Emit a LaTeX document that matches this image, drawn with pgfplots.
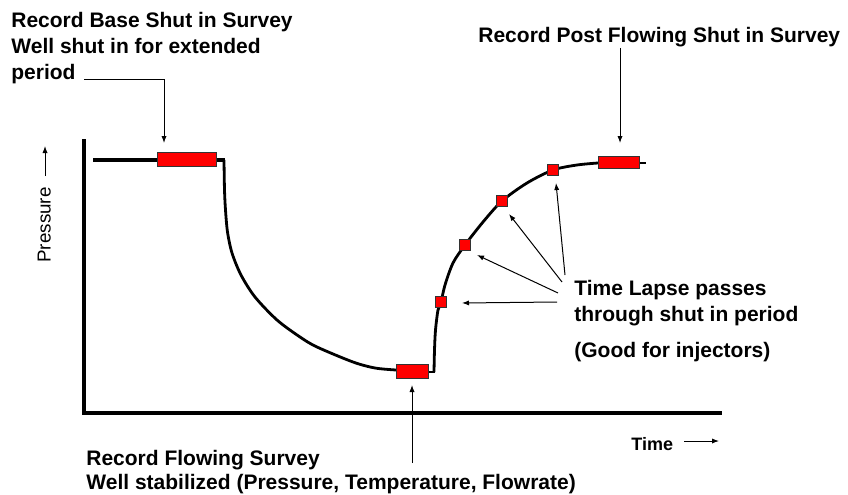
\documentclass[border=0pt]{standalone}
\usepackage{pgfplots}
\pgfplotsset{compat=1.18}
\usepackage{fontspec}
\setmainfont{Liberation Sans}
\usetikzlibrary{arrows.meta}
\newcommand{\lbl}{\fontsize{10.5bp}{13bp}\selectfont\bfseries}
\begin{document}
\begin{tikzpicture}
\begin{axis}[scale only axis, width=424bp, height=247.5bp,
  xmin=0, xmax=848, ymin=0, ymax=495, y dir=reverse,
  axis line style={draw=none}, xtick=\empty, ytick=\empty, clip=false]
% axis lines
\addplot[black, line width=2bp] coordinates {(84,139) (84,413) (722,413)};
% flat initial pressure
\addplot[black, line width=1.8bp] coordinates {(93,160) (225,160)};
% drawdown curve
\addplot[black, line width=1.4bp, smooth] coordinates {(224,160) (224.5,190) (225.5,210) (227.5,232) (232,253) (241,275) (255,297) (277,320) (300,337) (317,347) (353,362) (375,368) (396,370)};
% build-up curve
\addplot[black, line width=1.4bp] coordinates {(428,372) (434.5,372)};
\addplot[black, line width=1.4bp, smooth] coordinates {(434,372) (434.5,350) (435.5,330) (438,310) (441,302) (445,285) (453,263) (465,245) (483,222) (502,201) (527,183) (553,170) (577,165) (598,163)};
\addplot[black, line width=1.4bp] coordinates {(638,163) (646,163)};
% survey boxes
\addplot[fill=red, draw=black!80, line width=0.5bp] coordinates {(157,152) (216,152) (216,166) (157,166)} -- cycle;
\addplot[fill=red, draw=black!80, line width=0.5bp] coordinates {(396,364) (428,364) (428,378) (396,378)} -- cycle;
\addplot[fill=red, draw=black!80, line width=0.5bp] coordinates {(598,156) (639,156) (639,168) (598,168)} -- cycle;
\addplot[only marks, mark=square*, mark size=2.6bp, mark options={fill=red, draw=black!80, line width=0.5bp}] coordinates {(441,302) (465,245) (502,201) (553,170)};
% arrows
\addplot[black, line width=0.5bp, -{Latex[length=3.5bp,width=2.6bp]}] coordinates {(84,80) (164,80) (164,143)};
\addplot[black, line width=0.5bp, -{Latex[length=3.5bp,width=2.6bp]}] coordinates {(620,48) (620,143)};
\addplot[black, line width=0.5bp, -{Latex[length=3.5bp,width=2.6bp]}] coordinates {(412,463) (412,385)};
\addplot[black, line width=0.5bp, -{Latex[length=3.5bp,width=2.6bp]}] coordinates {(557,302) (462,303)};
\addplot[black, line width=0.5bp, -{Latex[length=3.5bp,width=2.6bp]}] coordinates {(558,293) (477,255)};
\addplot[black, line width=0.5bp, -{Latex[length=3.5bp,width=2.6bp]}] coordinates {(562,282) (509,214)};
\addplot[black, line width=0.5bp, -{Latex[length=3.5bp,width=2.6bp]}] coordinates {(565,275) (556,183)};
\addplot[black, line width=0.5bp, -{Latex[length=3.5bp,width=2.6bp]}] coordinates {(45,176) (45,146)};
\addplot[black, line width=0.5bp, -{Latex[length=3.5bp,width=2.6bp]}] coordinates {(684,441) (719,441)};
% labels
\node[anchor=base west, inner sep=0pt, font=\lbl] at (axis cs:11,28) {Record Base Shut in Survey};
\node[anchor=base west, inner sep=0pt, font=\lbl] at (axis cs:11,54) {Well shut in for extended};
\node[anchor=base west, inner sep=0pt, font=\lbl] at (axis cs:11,79) {period};
\node[anchor=base west, inner sep=0pt, font=\lbl] at (axis cs:478,43) {Record Post Flowing Shut in Survey};
\node[anchor=base west, inner sep=0pt, font=\lbl] at (axis cs:574,295) {Time Lapse passes};
\node[anchor=base west, inner sep=0pt, font=\lbl] at (axis cs:574,321) {through shut in period};
\node[anchor=base west, inner sep=0pt, font=\lbl] at (axis cs:574,357) {(Good for injectors)};
\node[anchor=base west, inner sep=0pt, font=\lbl] at (axis cs:86,465) {Record Flowing Survey};
\node[anchor=base west, inner sep=0pt, font=\lbl] at (axis cs:86,489) {Well stabilized (Pressure, Temperature, Flowrate)};
\node[anchor=base west, inner sep=0pt, font=\fontsize{9bp}{11bp}\selectfont\bfseries] at (axis cs:631,450) {Time};
\node[anchor=base west, inner sep=0pt, rotate=90, font=\fontsize{9.4bp}{11bp}\selectfont] at (axis cs:50.5,263) {Pressure};
\end{axis}
\end{tikzpicture}
\end{document}
